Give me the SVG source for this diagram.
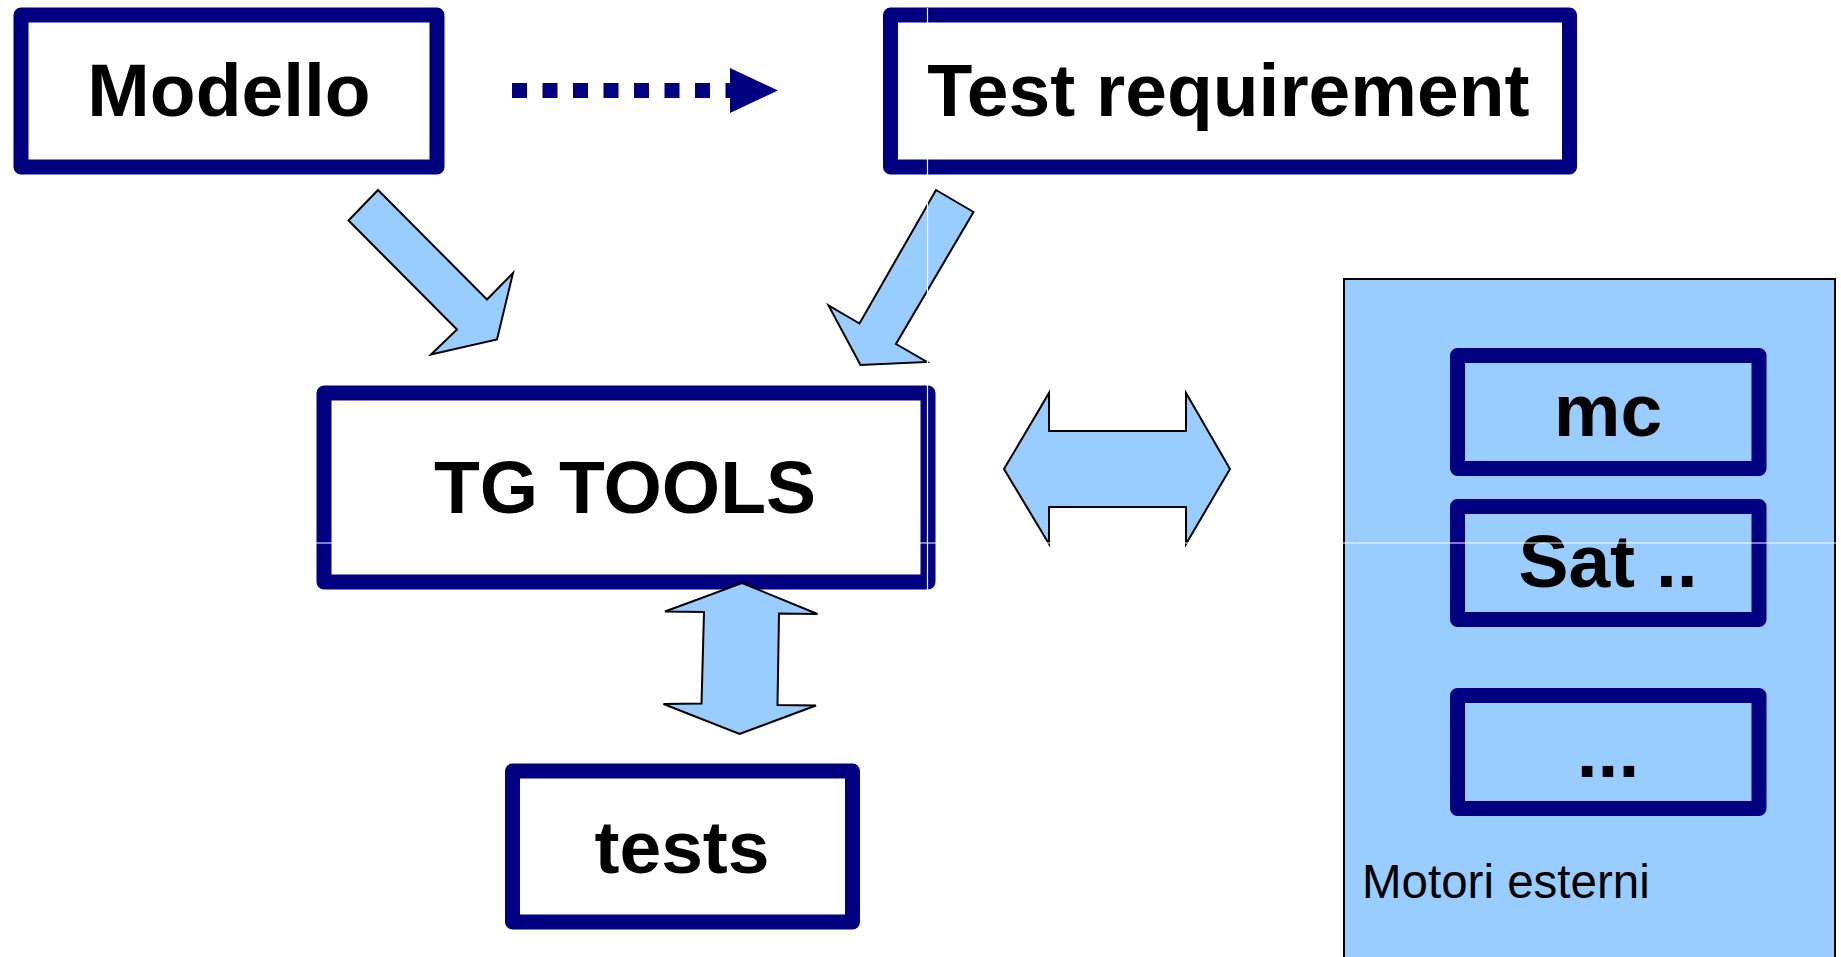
<svg xmlns="http://www.w3.org/2000/svg" width="1841" height="957" viewBox="0 0 1841 957">
  <style>
    .box { fill: #ffffff; stroke: #000080; stroke-width: 15; stroke-linejoin: round; }
    .inbox { fill: #99ccff; stroke: #000080; stroke-width: 15; stroke-linejoin: round; }
    .big { font-family: "Liberation Sans", Arial, sans-serif; font-weight: bold; font-size: 75px; fill: #000000; text-anchor: middle; }
    .lbl { font-family: "Liberation Sans", Arial, sans-serif; font-size: 47.5px; fill: #000000; }
    .fat { fill: #99ccff; stroke: #000000; stroke-width: 2; stroke-linejoin: miter; }
    .seam { stroke: #ffffff; stroke-width: 1.2; fill: none; }
  </style>
  <rect width="1841" height="957" fill="#ffffff"/>

  <g id="modello">
    <rect class="box" x="21" y="15" width="416" height="152"/>
    <text class="big" x="229" y="116">Modello</text>
  </g>

  <g id="test-requirement">
    <rect class="box" x="890.5" y="15" width="679" height="152"/>
    <text class="big" x="1228" y="116">Test requirement</text>
  </g>

  <g id="tg-tools">
    <rect class="box" x="324" y="393" width="604" height="189"/>
    <text class="big" x="625" y="513">TG TOOLS</text>
  </g>

  <g id="tests">
    <rect class="box" x="512.5" y="771" width="340" height="151"/>
    <text class="big" x="682" y="873">tests</text>
  </g>

  <g id="motori-esterni">
    <rect x="1344" y="279" width="491" height="720" fill="#99ccff" stroke="#000000" stroke-width="2"/>
    <text class="lbl" x="1362" y="898">Motori esterni</text>
  </g>

  <g id="mc">
    <rect class="inbox" x="1457.5" y="355.5" width="301.5" height="113"/>
    <text class="big" x="1608" y="436">mc</text>
  </g>

  <g id="sat">
    <rect class="inbox" x="1457.5" y="506.5" width="301.5" height="113"/>
    <text class="big" x="1608" y="587">Sat ..</text>
  </g>

  <g id="altri">
    <rect class="inbox" x="1457.5" y="695.5" width="301.5" height="113"/>
    <text class="big" x="1608" y="777">...</text>
  </g>

  <g id="connectors">
    <line x1="512" y1="90.5" x2="732" y2="90.5" stroke="#000080" stroke-width="15" stroke-dasharray="15 15.5"/>
    <polygon points="730,68 778,90.5 730,113" fill="#000080"/>
    <polygon class="fat" points="378,190 348.5,220.5 457,329.5 431,354.5 497,339.5 513,273 487,299.5"/>
    <polygon class="fat" points="936,190 973.5,212 896,344 927,362 860.5,365 828.5,305.5 859.5,323.5"/>
    <polygon class="fat" points="1004,469 1049,393 1049,431 1186,431 1186,393 1230,469 1186,544 1186,507 1049,507 1049,544"/>
    <polygon class="fat" points="742,583 817.5,614 779,613.5 777.5,705 816,705.5 739.5,734 663.5,704 701.5,703.5 704,612 665,611.5"/>
  </g>

  <g id="seams">
    <line class="seam" x1="927.5" y1="8" x2="927.5" y2="590"/>
    <line class="seam" x1="0" y1="543" x2="1841" y2="543"/>
  </g>
</svg>
